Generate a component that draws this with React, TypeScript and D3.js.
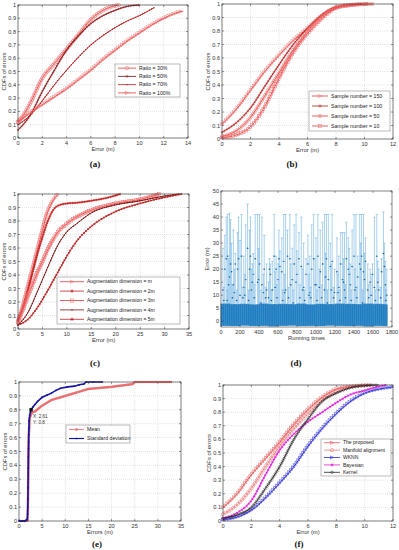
import React, { useEffect, useRef } from 'react';
import * as d3 from 'd3';

type Pt = [number, number];

// (a) ratio of labelled data
const ratioNames = ['Ratio = 30%', 'Ratio = 50%', 'Ratio = 70%', 'Ratio = 100%'];
const ratio30: Pt[] = [[0, 0.12], [0.5, 0.18], [1, 0.26], [2, 0.45], [3, 0.56], [4, 0.67], [5, 0.78], [6, 0.89], [7, 0.96], [7.8, 0.99], [8.3, 1]];
const ratio50: Pt[] = [[0, 0.06], [1, 0.17], [2, 0.35], [3, 0.51], [4, 0.66], [5, 0.77], [6, 0.86], [7, 0.92], [8, 0.96], [9, 0.99], [10, 1]];
const ratio70: Pt[] = [[0, 0.1], [1, 0.17], [2, 0.28], [3, 0.4], [4, 0.51], [5, 0.61], [6, 0.7], [7, 0.77], [8, 0.83], [9, 0.88], [10, 0.92], [11.2, 0.98]];
const ratio100: Pt[] = [[0, 0.12], [1, 0.19], [2, 0.25], [3, 0.31], [4, 0.37], [5, 0.44], [6, 0.51], [7, 0.59], [8, 0.66], [9, 0.73], [10, 0.79], [11, 0.85], [12, 0.9], [13, 0.94], [13.6, 0.955]];

// (b) sample number
const sampleNames = ['Sample number = 150', 'Sample number = 100', 'Sample number = 50', 'Sample number = 10'];
const sample150: Pt[] = [[0, 0.11], [1, 0.22], [2, 0.36], [3, 0.5], [4, 0.62], [5, 0.73], [6, 0.82], [7, 0.91], [8, 0.97], [9, 0.99], [9.8, 1]];
const sample100: Pt[] = [[0, 0.05], [1, 0.12], [2, 0.23], [3, 0.39], [4, 0.55], [5, 0.7], [6, 0.82], [7, 0.92], [8, 0.98], [9, 0.995], [9.8, 1]];
const sample50: Pt[] = [[0, 0.02], [1, 0.06], [2, 0.16], [3, 0.32], [4, 0.49], [5, 0.66], [6, 0.8], [7, 0.91], [8, 0.975], [9, 0.995], [10.6, 1]];
const sample10: Pt[] = [[0, 0.01], [1, 0.03], [2, 0.09], [3, 0.24], [4, 0.45], [5, 0.64], [6, 0.78], [7, 0.89], [8, 0.97], [9, 0.99], [10.2, 1]];

// (c) augmentation dimension
const augNames = ['Augmentation dimension = m', 'Augmentation dimension = 2m', 'Augmentation dimension = 3m', 'Augmentation dimension = 4m', 'Augmentation dimension = 5m'];
const augM: Pt[] = [[0, 0.05], [1, 0.17], [2, 0.31], [3, 0.45], [4, 0.59], [5, 0.73], [6, 0.86], [7, 0.94], [8, 0.99], [8.3, 1]];
const aug2m: Pt[] = [[0, 0.07], [1, 0.16], [2, 0.28], [3, 0.42], [4, 0.56], [5, 0.68], [6, 0.79], [7, 0.87], [8, 0.91], [10, 0.93], [12, 0.935], [15, 0.95], [18, 0.97], [21, 1]];
const aug3m: Pt[] = [[0, 0.05], [1, 0.14], [2, 0.24], [3, 0.33], [4, 0.42], [5, 0.5], [6, 0.58], [7, 0.65], [8, 0.71], [10, 0.78], [12, 0.83], [15, 0.88], [20, 0.93], [25, 0.96], [29, 1]];
const aug4m: Pt[] = [[0, 0.03], [2, 0.12], [4, 0.28], [6, 0.45], [8, 0.61], [10, 0.72], [12, 0.78], [15, 0.86], [20, 0.92], [25, 0.95], [30, 0.985], [33, 1]];
const aug5m: Pt[] = [[0, 0.03], [2, 0.07], [4, 0.16], [6, 0.28], [8, 0.41], [10, 0.54], [12, 0.65], [15, 0.76], [20, 0.87], [25, 0.93], [30, 0.975], [33.5, 1]];

// (d) error bars over running times: band per 100 runs, then spikes [run, top, mean]
const bandTop = [6.8, 6.6, 6.7, 6.5, 6.8, 6.6, 6.7, 6.6, 6.8, 6.5, 6.7, 6.6, 6.8, 6.7, 6.6, 6.8, 6.7, 6.6];
const bandLow = [-1.7, -1.8, -1.6, -1.8, -1.7, -1.9, -1.7, -1.6, -1.8, -1.7, -1.8, -1.6, -1.7, -1.8, -1.7, -1.9, -1.7, -1.8];
const spikes: [number, number, number][] = [
  [20, 28, 12], [40, 33, 20], [55, 40, 24], [70, 41, 25], [90, 41.5, 17], [110, 30, 19], [130, 35, 14], [150, 26, 22],
  [175, 34, 20], [200, 31, 10], [215, 41, 25], [240, 25, 13], [260, 37, 16], [280, 45, 28], [300, 35, 20], [320, 20, 12],
  [340, 26, 18], [360, 41, 24], [385, 41, 15], [405, 41, 22], [430, 40, 14], [455, 33, 20], [480, 22, 12], [500, 15, 9],
  [520, 22, 18], [540, 23, 12], [560, 41, 25], [580, 25, 20], [600, 22, 16], [620, 27, 21], [640, 32, 19], [660, 41, 23],
  [680, 41, 12], [700, 35, 25], [725, 41, 24], [750, 28, 16], [770, 37, 22], [790, 41, 15], [820, 34, 24], [845, 40, 21],
  [870, 30, 13], [895, 24, 18], [915, 33, 22], [935, 25, 11], [955, 37, 20], [975, 41, 24], [1000, 32, 14], [1020, 41, 25],
  [1045, 35, 19], [1070, 38, 22], [1090, 41, 12], [1110, 41, 24], [1130, 41, 16], [1150, 30, 21], [1170, 41, 23], [1195, 20, 11],
  [1220, 32, 19], [1240, 25, 13], [1260, 34, 22], [1280, 34, 16], [1300, 34, 12], [1320, 38, 24], [1340, 32, 20], [1360, 22, 14],
  [1380, 35, 21], [1400, 41, 25], [1420, 41, 13], [1440, 25, 17], [1460, 41, 22], [1480, 41, 25], [1500, 41, 19], [1520, 32, 23],
  [1545, 22, 12], [1570, 20, 15], [1595, 22, 18], [1615, 40, 13], [1640, 41, 25], [1660, 20, 12], [1690, 24, 19], [1710, 42, 26],
  [1730, 23, 14], [1745, 20, 10],
  [30, 13, 8], [65, 12, 8], [120, 14, 9], [165, 12, 8], [230, 13, 9], [290, 12, 8], [350, 14, 9], [420, 12, 7], [470, 13, 9],
  [530, 12, 8], [590, 14, 9], [650, 12, 8], [710, 13, 9], [760, 12, 7], [830, 14, 9], [880, 12, 8], [945, 13, 9], [1010, 12, 8],
  [1060, 14, 9], [1120, 12, 7], [1185, 13, 9], [1250, 12, 8], [1310, 14, 9], [1370, 12, 8], [1430, 13, 9], [1490, 12, 7],
  [1555, 14, 9], [1625, 12, 8], [1680, 13, 9], [1735, 12, 8],
  [80, 24, 14], [100, 39, 22], [140, 20, 11], [185, 40, 24], [250, 18, 10], [310, 40, 25], [330, 22, 15], [395, 28, 16],
  [445, 18, 11], [510, 24, 20], [570, 19, 13], [610, 35, 24], [670, 18, 11], [735, 22, 14], [800, 27, 18], [860, 20, 12],
  [925, 18, 10], [990, 24, 14], [1035, 20, 13], [1100, 26, 17], [1160, 22, 12], [1230, 18, 11], [1290, 24, 15], [1350, 28, 18],
  [1410, 20, 12], [1470, 30, 20], [1510, 26, 16], [1580, 18, 10], [1650, 23, 15], [1720, 30, 21]
];

// (e) mean and standard deviation
const eNames = ['Mean', 'Standard deviation'];
const meanCdf: Pt[] = [[0, 0], [1.8, 0], [1.9, 0.05], [2.0, 0.3], [2.1, 0.6], [2.3, 0.74], [2.8, 0.78], [3.5, 0.79], [5, 0.83], [7, 0.87], [10, 0.9], [13, 0.93], [15, 0.95], [20, 0.965], [24.5, 0.985], [25, 1], [33, 1]];
const stdCdf: Pt[] = [[0, 0], [0.25, 0], [0.5, 0], [0.75, 0], [1, 0], [1.25, 0], [1.5, 0.005], [1.8, 0.01], [1.85, 0.05], [1.9, 0.1], [1.93, 0.16], [1.95, 0.24], [2.0, 0.38], [2.02, 0.46], [2.05, 0.52], [2.08, 0.57], [2.1, 0.62], [2.15, 0.67], [2.2, 0.72], [2.3, 0.76], [2.45, 0.78], [2.61, 0.8], [3, 0.82], [3.5, 0.84], [4, 0.86], [5, 0.89], [6, 0.905], [7, 0.92], [8, 0.94], [9, 0.955], [10.5, 0.965], [12, 0.97], [13, 0.98], [14, 0.985], [14.5, 1], [16, 1], [18, 1]];
const dataTip: Pt = [2.61, 0.8];

// (f) comparison of methods
const methodNames = ['The proposed', 'Manifold alignment', 'WKNN', 'Bayesian', 'Kernel'];
const proposed: Pt[] = [[0, 0.1], [1, 0.2], [2, 0.34], [3, 0.46], [4, 0.58], [5, 0.71], [6, 0.82], [7, 0.91], [8, 0.97], [9, 0.99], [10.5, 1]];
const manifold: Pt[] = [[0, 0.05], [1, 0.12], [2, 0.24], [3, 0.4], [4, 0.55], [5, 0.68], [6, 0.79], [7, 0.89], [8, 0.95], [9, 0.985], [10.5, 1]];
const wknn: Pt[] = [[0, 0.01], [1, 0.03], [2, 0.08], [3, 0.17], [4, 0.28], [5, 0.4], [6, 0.55], [7, 0.68], [8, 0.79], [9, 0.88], [10, 0.94], [11, 0.97], [12, 0.985]];
const bayes: Pt[] = [[0, 0.02], [1, 0.06], [2, 0.15], [3, 0.34], [4, 0.52], [5, 0.64], [6, 0.73], [7, 0.8], [8, 0.87], [9, 0.93], [10, 0.96], [11, 0.99], [11.5, 1]];
const kernel: Pt[] = [[0, 0.02], [1, 0.045], [2, 0.1], [3, 0.24], [4, 0.4], [5, 0.6], [6, 0.75], [7, 0.88], [8, 0.94], [9, 0.98], [10, 0.995], [11, 1]];

const FONT = 'Liberation Sans, Arial, sans-serif';

function marker(g: any, kind: string, x: number, y: number, color: string, r: number) {
  const s = g.append('g').attr('transform', `translate(${x},${y})`);
  const st = (e: any) => e.attr('fill', 'none').attr('stroke', color).attr('stroke-width', 0.55);
  if (kind === 'circle') st(s.append('circle').attr('r', r));
  if (kind === 'circdot') { st(s.append('circle').attr('r', r)); s.append('circle').attr('r', 0.5).attr('fill', color); }
  if (kind === 'plus') st(s.append('path').attr('d', `M${-r},0H${r}M0,${-r}V${r}`));
  if (kind === 'dot') s.append('circle').attr('r', r * 0.45).attr('fill', color);
  if (kind === 'triR') st(s.append('path').attr('d', `M${-r},${-r}L${r},0L${-r},${r}Z`));
  if (kind === 'square') st(s.append('rect').attr('x', -r).attr('y', -r).attr('width', 2 * r).attr('height', 2 * r));
  if (kind === 'star') st(s.append('path').attr('d', `M${-r},0H${r}M0,${-r}V${r}M${-r * 0.7},${-r * 0.7}L${r * 0.7},${r * 0.7}M${-r * 0.7},${r * 0.7}L${r * 0.7},${-r * 0.7}`));
  if (kind === 'diamond') st(s.append('path').attr('d', `M0,${-r}L${r},0L0,${r}L${-r},0Z`));
}

interface Series { name: string; pts: Pt[]; color: string; mk: string; step: number; r: number; lw?: number; mkColor?: string; linear?: boolean; atPoints?: boolean; }
interface Panel { left: number; top: number; w: number; h: number; xMax: number; xStep: number; xLabel: string; series: Series[]; legend: { x: number; y: number; w: number; h: number; line: number; fs: number }; tag: string; tagX: number; }

function frame(svg: any, p: { left: number; top: number; w: number; h: number }, x: any, y: any, xt: number[], yt: number[], yFmt: (v: number) => string, grid: boolean) {
  const g = svg.append('g');
  const b = p.top + p.h, r = p.left + p.w;
  if (grid) {
    xt.forEach(t => g.append('line').attr('x1', x(t)).attr('x2', x(t)).attr('y1', p.top).attr('y2', b).attr('stroke', '#aaa').attr('stroke-width', 0.4).attr('stroke-dasharray', '0.8,1.2'));
    yt.forEach(t => g.append('line').attr('x1', p.left).attr('x2', r).attr('y1', y(t)).attr('y2', y(t)).attr('stroke', '#aaa').attr('stroke-width', 0.4).attr('stroke-dasharray', '0.8,1.2'));
  }
  xt.forEach(t => {
    g.append('path').attr('d', `M${x(t)},${b}v-2M${x(t)},${p.top}v2`).attr('stroke', '#333').attr('stroke-width', 0.5);
    g.append('text').attr('x', x(t)).attr('y', b + 6.5).attr('text-anchor', 'middle').attr('font-size', 5.6).attr('font-family', FONT).attr('fill', '#333').text(t);
  });
  yt.forEach(t => {
    g.append('path').attr('d', `M${p.left},${y(t)}h2M${r},${y(t)}h-2`).attr('stroke', '#333').attr('stroke-width', 0.5);
    g.append('text').attr('x', p.left - 2).attr('y', y(t) + 2).attr('text-anchor', 'end').attr('font-size', 5.6).attr('font-family', FONT).attr('fill', '#333').text(yFmt(t));
  });
  return g;
}

function drawPanel(svg: any, p: Panel) {
  const x = d3.scaleLinear().domain([0, p.xMax]).range([p.left, p.left + p.w]);
  const y = d3.scaleLinear().domain([0, 1]).range([p.top + p.h, p.top]);
  const xt = d3.range(0, p.xMax + 0.001, p.xStep);
  const yt = d3.range(0, 1.001, 0.1).map(v => +v.toFixed(1));
  svg.append('rect').attr('x', p.left).attr('y', p.top).attr('width', p.w).attr('height', p.h).attr('fill', '#fff');
  frame(svg, p, x, y, xt, yt, v => (v === 0 || v === 1 ? String(v) : v.toFixed(1)), true);

  const g = svg.append('g');
  p.series.forEach(s => {
    const line = d3.line<Pt>().x(d => x(d[0])).y(d => y(d[1])).curve(s.linear ? d3.curveLinear : d3.curveMonotoneX);
    const path = g.append('path').attr('d', line(s.pts)).attr('fill', 'none').attr('stroke', s.color).attr('stroke-width', s.lw ?? 0.9);
    const mc = s.mkColor ?? s.color;
    if (s.atPoints) {
      s.pts.forEach(d => marker(g, s.mk, x(d[0]), y(d[1]), mc, s.r));
    } else {
      const node = path.node() as SVGPathElement;
      const L = node.getTotalLength();
      for (let l = 0; l <= L; l += s.step) {
        const q = node.getPointAtLength(l);
        marker(g, s.mk, q.x, q.y, mc, s.r);
      }
    }
  });

  svg.append('rect').attr('x', p.left).attr('y', p.top).attr('width', p.w).attr('height', p.h).attr('fill', 'none').attr('stroke', '#333').attr('stroke-width', 0.6);
  svg.append('text').attr('x', p.left + p.w / 2).attr('y', p.top + p.h + 13).attr('text-anchor', 'middle').attr('font-size', 5.8).attr('font-family', FONT).attr('fill', '#333').text(p.xLabel);
  svg.append('text').attr('transform', `translate(${p.left - 12},${p.top + p.h / 2}) rotate(-90)`).attr('text-anchor', 'middle').attr('font-size', 5.8).attr('font-family', FONT).attr('fill', '#333').text('CDFs of errors');

  const lg = p.legend;
  svg.append('rect').attr('x', lg.x).attr('y', lg.y).attr('width', lg.w).attr('height', lg.h).attr('fill', '#fff').attr('stroke', '#777').attr('stroke-width', 0.5);
  const n = p.series.length;
  p.series.forEach((s, i) => {
    const cy = lg.y + (lg.h / n) * (i + 0.5);
    svg.append('line').attr('x1', lg.x + 3).attr('x2', lg.x + 3 + lg.line).attr('y1', cy).attr('y2', cy).attr('stroke', s.color).attr('stroke-width', s.lw ? Math.min(s.lw, 1.2) : 0.8);
    marker(svg, s.mk, lg.x + 3 + lg.line / 2, cy, s.mkColor ?? s.color, Math.max(s.r, 1.6));
    svg.append('text').attr('x', lg.x + 6 + lg.line).attr('y', cy + lg.fs * 0.35).attr('font-size', lg.fs).attr('font-family', FONT).attr('fill', '#222').text(s.name);
  });
  tag(svg, p.tag, p.tagX, p.top > 300 ? 547 : p.top > 150 ? 366 : 167);
  return { x, y };
}

function tag(svg: any, t: string, x: number, y: number) {
  svg.append('text').attr('x', x).attr('y', y).attr('text-anchor', 'middle').attr('font-size', 9).attr('font-weight', 'bold').attr('font-family', 'Liberation Serif, serif').attr('fill', '#111').text(t);
}

function drawErrorBars(svg: any) {
  const p = { left: 221, top: 191, w: 171, h: 136 };
  const x = d3.scaleLinear().domain([0, 1800]).range([p.left, p.left + p.w]);
  const y = d3.scaleLinear().domain([-2.2, 50]).range([p.top + p.h, p.top]);
  svg.append('rect').attr('x', p.left).attr('y', p.top).attr('width', p.w).attr('height', p.h).attr('fill', '#fff');
  const g = svg.append('g');
  spikes.forEach(([run, top, mean]) => {
    g.append('line').attr('x1', x(run)).attr('x2', x(run)).attr('y1', y(0)).attr('y2', y(top)).attr('stroke', '#62aade').attr('stroke-width', 0.55);
    g.append('line').attr('x1', x(run) - 1.2).attr('x2', x(run) + 1.2).attr('y1', y(top)).attr('y2', y(top)).attr('stroke', '#62aade').attr('stroke-width', 0.5);
    g.append('line').attr('x1', x(run) - 1.2).attr('x2', x(run) + 1.2).attr('y1', y(mean)).attr('y2', y(mean)).attr('stroke', '#3a8ccc').attr('stroke-width', 0.4);
    g.append('circle').attr('cx', x(run)).attr('cy', y(mean)).attr('r', 0.7).attr('fill', '#145e9a');
  });
  d3.range(0, 1750, 4).forEach((run, i) => {
    const bin = Math.min(bandTop.length - 1, Math.floor(run / 100));
    g.append('line').attr('x1', x(run)).attr('x2', x(run)).attr('y1', y(bandLow[bin])).attr('y2', y(bandTop[bin] - (i % 3) * 0.15))
      .attr('stroke', i % 5 === 0 ? '#4f9fd6' : '#1f7cc0').attr('stroke-width', 0.9);
  });
  frame(svg, p, x, y, d3.range(0, 1801, 200), d3.range(0, 51, 5), v => String(v), false);
  svg.append('rect').attr('x', p.left).attr('y', p.top).attr('width', p.w).attr('height', p.h).attr('fill', 'none').attr('stroke', '#333').attr('stroke-width', 0.6);
  svg.append('text').attr('x', p.left + p.w / 2).attr('y', p.top + p.h + 13).attr('text-anchor', 'middle').attr('font-size', 5.8).attr('font-family', FONT).attr('fill', '#333').text('Running times');
  svg.append('text').attr('transform', `translate(${p.left - 12},${p.top + p.h / 2}) rotate(-90)`).attr('text-anchor', 'middle').attr('font-size', 5.8).attr('font-family', FONT).attr('fill', '#333').text('Error (m)');
  tag(svg, '(d)', 296, 366);
}

const red1 = '#e23a3a', red2 = '#f07070', dark = '#9a1c1c';

export default function App() {
  const ref = useRef<SVGSVGElement>(null);
  useEffect(() => {
    const svg = d3.select(ref.current);
    svg.selectAll('*').remove();
    svg.append('rect').attr('width', 399).attr('height', 550).attr('fill', '#fff');

    drawPanel(svg, {
      left: 18, top: 5, w: 170, h: 133, xMax: 14, xStep: 2, xLabel: 'Error (m)', tag: '(a)', tagX: 95,
      legend: { x: 115, y: 64, w: 65, h: 33, line: 18, fs: 5.2 },
      series: [
        { name: ratioNames[0], pts: ratio30, color: red1, mk: 'circle', step: 2.4, r: 1.8, mkColor: red2 },
        { name: ratioNames[1], pts: ratio50, color: '#6a1010', mk: 'plus', step: 2.6, r: 1.2, mkColor: dark },
        { name: ratioNames[2], pts: ratio70, color: '#b82020', mk: 'dot', step: 2.6, r: 1.6 },
        { name: ratioNames[3], pts: ratio100, color: red1, mk: 'triR', step: 2.6, r: 1.7, mkColor: red2 },
      ],
    });

    drawPanel(svg, {
      left: 222, top: 4, w: 171, h: 135, xMax: 12, xStep: 2, xLabel: 'Error (m)', tag: '(b)', tagX: 292,
      legend: { x: 309, y: 91, w: 81, h: 40, line: 16, fs: 5.2 },
      series: [
        { name: sampleNames[0], pts: sample150, color: red1, mk: 'triR', step: 2.8, r: 1.6, mkColor: red2 },
        { name: sampleNames[1], pts: sample100, color: '#b82020', mk: 'plus', step: 2.8, r: 1.3 },
        { name: sampleNames[2], pts: sample50, color: red1, mk: 'circdot', step: 2.8, r: 1.6, mkColor: red2 },
        { name: sampleNames[3], pts: sample10, color: red1, mk: 'square', step: 2.8, r: 1.4, mkColor: red2 },
      ],
    });

    drawPanel(svg, {
      left: 18, top: 194, w: 171, h: 135, xMax: 35, xStep: 5, xLabel: 'Error (m)', tag: '(c)', tagX: 95,
      legend: { x: 57, y: 277, w: 123, h: 47, line: 24, fs: 5 },
      series: [
        { name: augNames[0], pts: augM, color: red1, mk: 'triR', step: 2.2, r: 1.6, mkColor: red2 },
        { name: augNames[1], pts: aug2m, color: '#c42020', mk: 'star', step: 2.4, r: 1.3 },
        { name: augNames[2], pts: aug3m, color: red1, mk: 'square', step: 2.2, r: 1.5, mkColor: red2 },
        { name: augNames[3], pts: aug4m, color: '#7a1414', mk: 'dot', step: 2.6, r: 1.5 },
        { name: augNames[4], pts: aug5m, color: '#b82020', mk: 'star', step: 2.8, r: 1.1 },
      ],
    });

    drawErrorBars(svg);

    const e = drawPanel(svg, {
      left: 19, top: 382, w: 162, h: 139, xMax: 35, xStep: 5, xLabel: 'Errors (m)', tag: '(e)', tagX: 97,
      legend: { x: 66, y: 425, w: 64, h: 18, line: 15, fs: 5.2 },
      series: [
        { name: eNames[0], pts: meanCdf, color: '#f08a8a', mk: 'star', step: 1.8, r: 1.3, lw: 2.2, linear: true, mkColor: '#e86a6a' },
        { name: eNames[1], pts: stdCdf, color: '#1414a0', mk: 'dot', step: 2, r: 1.9, lw: 1.6, linear: true, atPoints: true },
      ],
    });
    svg.append('rect').attr('x', e.x(dataTip[0]) - 1.7).attr('y', e.y(dataTip[1]) - 1.7).attr('width', 3.4).attr('height', 3.4).attr('fill', '#111');
    svg.append('text').attr('x', e.x(dataTip[0]) + 2).attr('y', e.y(dataTip[1]) + 8).attr('font-size', 4.6).attr('font-family', FONT).attr('fill', '#333').text(`X: ${dataTip[0]}`);
    svg.append('text').attr('x', e.x(dataTip[0]) + 2).attr('y', e.y(dataTip[1]) + 14).attr('font-size', 4.6).attr('font-family', FONT).attr('fill', '#333').text(`Y: ${dataTip[1]}`);

    drawPanel(svg, {
      left: 223, top: 385, w: 170, h: 136, xMax: 12, xStep: 2, xLabel: 'Error (m)', tag: '(f)', tagX: 299,
      legend: { x: 321, y: 439, w: 70, h: 37, line: 16, fs: 5 },
      series: [
        { name: methodNames[0], pts: proposed, color: '#e85a5a', mk: 'triR', step: 3, r: 1.6 },
        { name: methodNames[1], pts: manifold, color: '#f07a7a', mk: 'circle', step: 3, r: 1.6 },
        { name: methodNames[2], pts: wknn, color: '#3030d8', mk: 'triR', step: 3, r: 1.6 },
        { name: methodNames[3], pts: bayes, color: '#e020d8', mk: 'star', step: 3, r: 1.3 },
        { name: methodNames[4], pts: kernel, color: '#222', mk: 'diamond', step: 3, r: 1.4 },
      ],
    });
  }, []);
  return <svg ref={ref} width={399} height={550} style={{ position: 'absolute', left: 0, top: 0 }} />;
}
